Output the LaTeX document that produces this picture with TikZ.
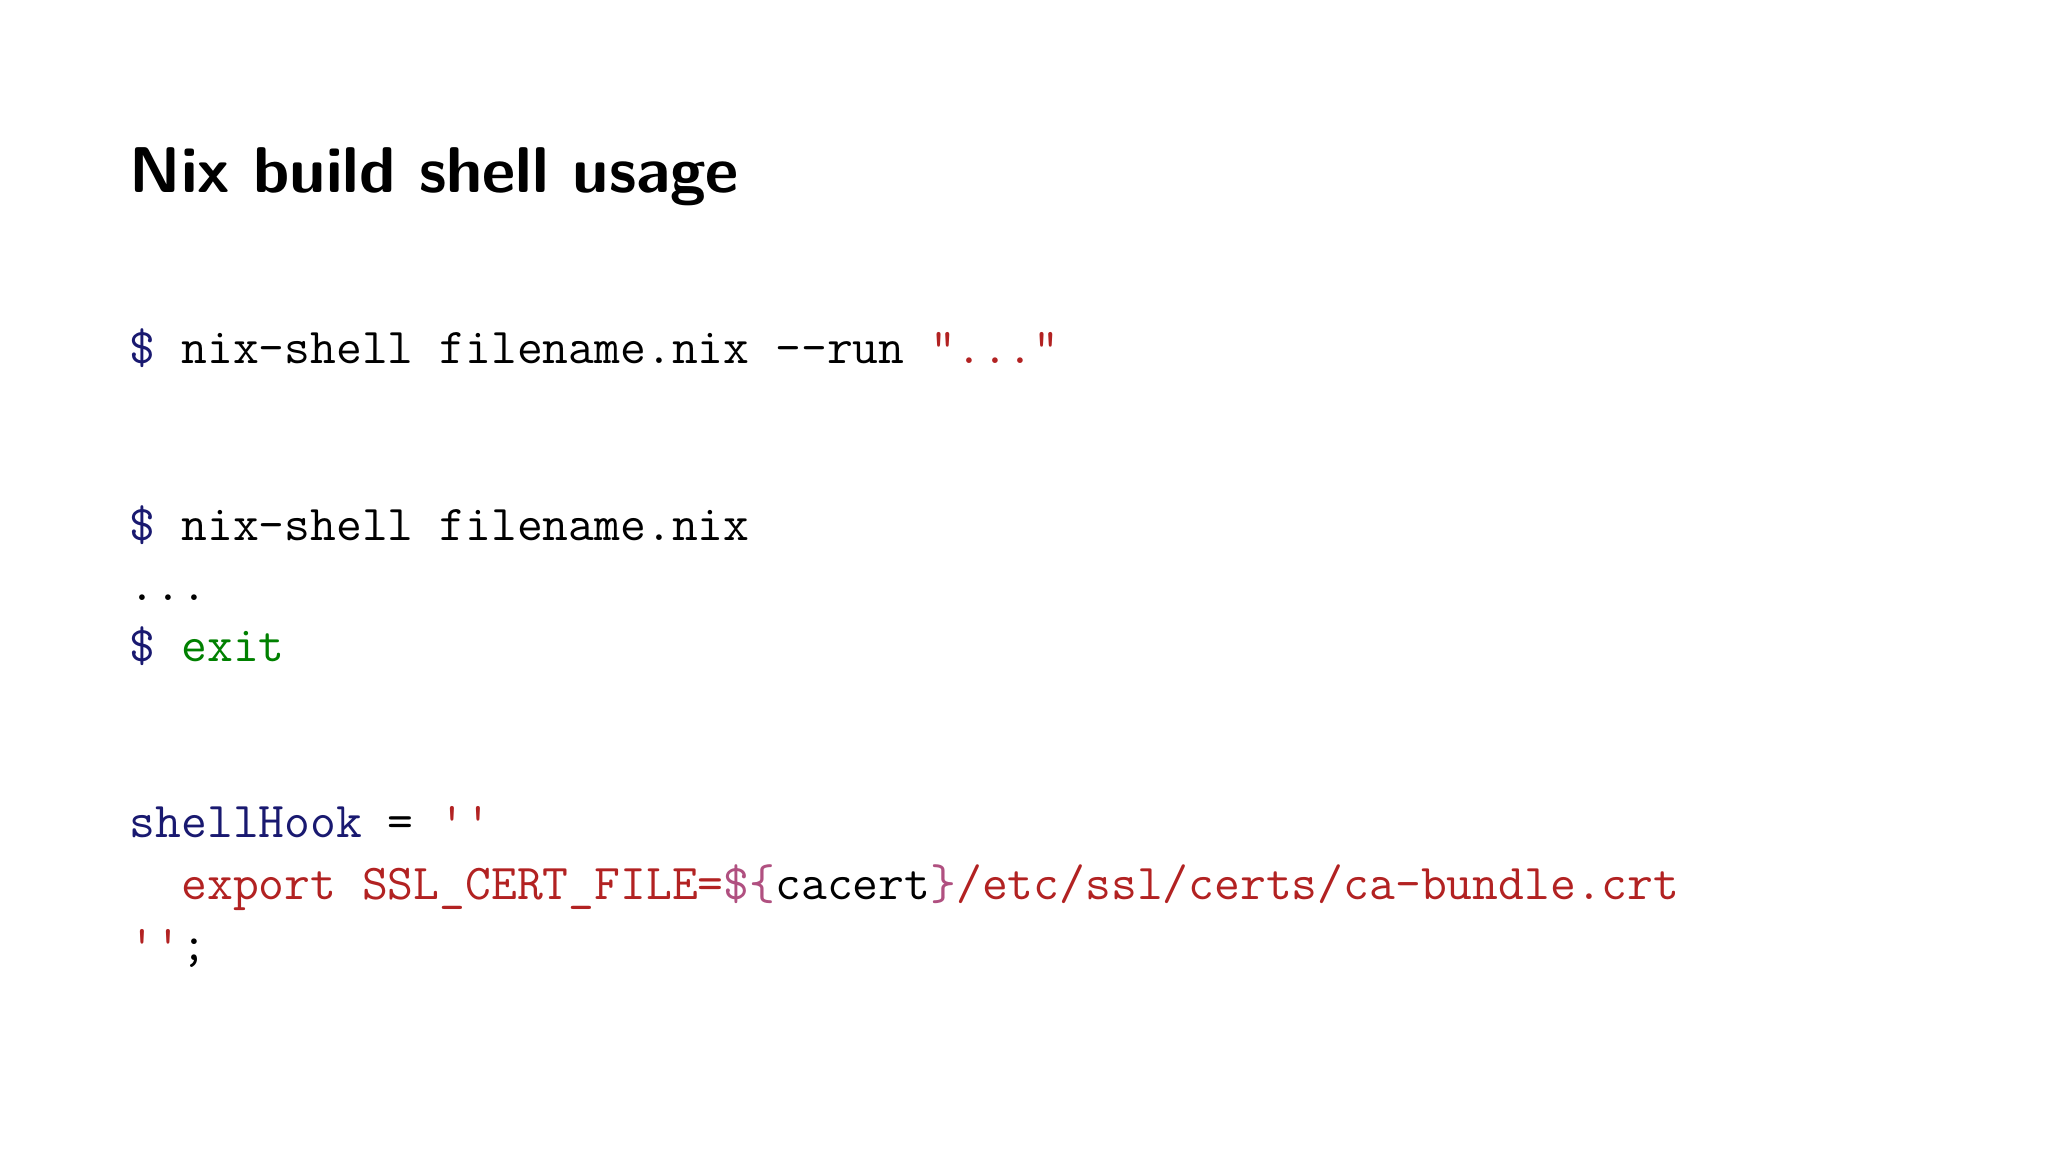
\documentclass[tikz,border=0pt]{standalone}
\usepackage{fontspec}
\definecolor{kw}{RGB}{25,25,112}
\definecolor{str}{RGB}{178,34,34}
\definecolor{gr}{RGB}{0,128,0}
\definecolor{ip}{RGB}{176,80,128}
\begin{document}
\begin{tikzpicture}[x=1cm,y=1cm,
  code/.style={anchor=base west,inner sep=0pt,font=\ttfamily\fontsize{14.27}{16}\selectfont}]
\useasboundingbox (0,0) rectangle (20.48,11.52);
\node[anchor=base west,inner sep=0pt,font=\sffamily\bfseries\fontsize{18.4}{22}\selectfont] (title) at (1.29,11.52-1.93) {Nix build shell usage};
\node[code] (l1) at (1.29,11.52-3.64) {\textcolor{kw}{\$} nix-shell filename.nix --run \textcolor{str}{"..."}};
\node[code] (l2) at (1.29,11.52-5.41) {\textcolor{kw}{\$} nix-shell filename.nix};
\node[code] (l3) at (1.29,11.52-6.01) {...};
\node[code] (l4) at (1.29,11.52-6.62) {\textcolor{kw}{\$} \textcolor{gr}{exit}};
\node[code] (l5) at (1.29,11.52-8.38) {\textcolor{kw}{shellHook} = \textcolor{str}{''}};
\node[code] (l6) at (1.29,11.52-9.00) {\textcolor{str}{\ \ export SSL\_CERT\_FILE=}\textcolor{ip}{\$\{}cacert\textcolor{ip}{\}}\textcolor{str}{/etc/ssl/certs/ca-bundle.crt}};
\node[code] (l7) at (1.29,11.52-9.61) {\textcolor{str}{''};};
\end{tikzpicture}
\end{document}
